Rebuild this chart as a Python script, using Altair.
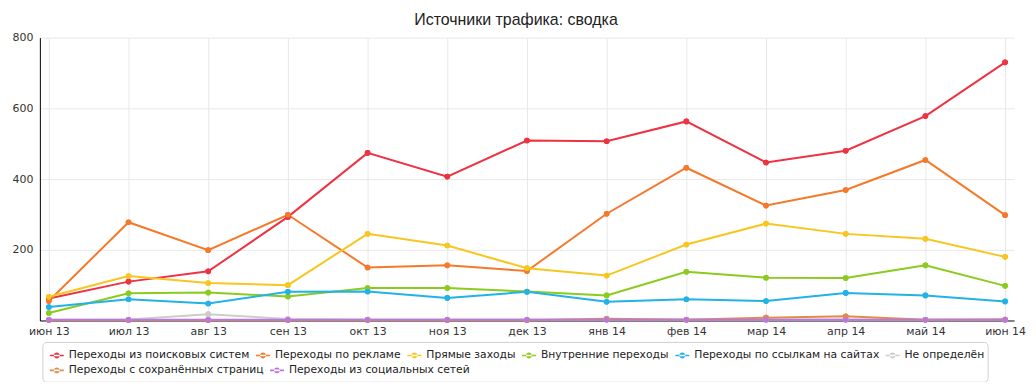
import altair as alt
import pandas as pd

months = ["июн 13", "июл 13", "авг 13", "сен 13", "окт 13", "ноя 13", "дек 13",
          "янв 14", "фев 14", "мар 14", "апр 14", "май 14", "июн 14"]

series = [
    "Переходы из поисковых систем",
    "Переходы по рекламе",
    "Прямые заходы",
    "Внутренние переходы",
    "Переходы по ссылкам на сайтах",
    "Не определён",
    "Переходы с сохранённых страниц",
    "Переходы из социальных сетей",
]

colors = ["#EE3242", "#F5792A", "#F8C620", "#8BCB1E", "#22B2E8", "#CCCCCC", "#DE8C4C", "#BB77DD"]

search = [62, 110, 139, 293, 474, 407, 509, 507, 563, 447, 480, 578, 730]
ads = [55, 278, 199, 299, 150, 156, 140, 302, 432, 325, 369, 454, 298]
direct = [67, 126, 106, 100, 245, 212, 148, 127, 215, 274, 245, 231, 180]
internal = [21, 77, 79, 68, 92, 92, 82, 71, 138, 121, 120, 156, 98]
links = [38, 60, 48, 81, 82, 64, 81, 53, 60, 55, 78, 71, 54]
undefined = [2, 3, 18, 4, 3, 3, 3, 3, 3, 3, 3, 2, 3]
saved = [1, 1, 1, 1, 1, 1, 1, 5, 2, 8, 12, 2, 3]
social = [2, 2, 2, 2, 2, 2, 2, 2, 2, 2, 2, 2, 2]

all_values = [search, ads, direct, internal, links, undefined, saved, social]

rows = []
for name, vals in zip(series, all_values):
    for m, v in zip(months, vals):
        rows.append({"month": m, "series": name, "value": v})
df = pd.DataFrame(rows)

SYMBOL = "M-1,-0.12L1,-0.12L1,0.12L-1,0.12Z M-0.42,0A0.42,0.42 0 1,0 0.42,0A0.42,0.42 0 1,0 -0.42,0Z"


def make_legend(vals, y):
    return alt.Legend(
        title=None,
        orient="none",
        legendX=3,
        legendY=y,
        direction="horizontal",
        values=vals,
        symbolType=SYMBOL,
        symbolSize=196,
        symbolStrokeWidth=0,
        symbolOpacity=1,
        labelFont="DejaVu Sans",
        labelFontSize=10.8,
        labelColor="#222222",
        labelOffset=5,
        columnPadding=6,
        padding=7,
        labelLimit=400,
    )


x_enc = alt.X(
    "month:N",
    sort=months,
    scale=alt.Scale(type="point", padding=0.1125),
    axis=alt.Axis(
        title=None,
        ticks=False,
        labelAngle=0,
        labelFont="DejaVu Sans",
        labelFontSize=11,
        labelColor="#333333",
        labelPadding=5,
        domainColor="#000000",
        domainWidth=1,
        grid=True,
        gridColor="#E8E8E8",
    ),
)
y_enc = alt.Y(
    "value:Q",
    scale=alt.Scale(domain=[0, 800]),
    axis=alt.Axis(
        title=None,
        values=[200, 400, 600, 800],
        ticks=False,
        labelFont="DejaVu Sans",
        labelFontSize=11,
        labelColor="#333333",
        labelPadding=7,
        domainColor="#000000",
        domainWidth=1,
        grid=True,
        gridColor="#E8E8E8",
    ),
)
color_scale = alt.Scale(domain=series, range=colors)

lines = alt.Chart(df).mark_line(strokeWidth=2).encode(
    x=x_enc, y=y_enc,
    color=alt.Color("series:N", sort=series, scale=color_scale, legend=None),
)
points1 = alt.Chart(df).mark_point(filled=True, size=32, opacity=1).encode(
    x=x_enc, y=y_enc,
    color=alt.Color("series:N", sort=series, scale=color_scale,
                    legend=make_legend(series[:6], 305)),
)
points2 = alt.Chart(df).mark_point(filled=True, size=32, opacity=1).encode(
    x=x_enc, y=y_enc,
    color=alt.Color("series:N", sort=series, scale=color_scale,
                    legend=make_legend(series[6:], 320)),
)

frame = alt.Chart(pd.DataFrame({"k": [0]})).mark_rect(
    fillOpacity=0, stroke="#D0D0D0", strokeWidth=1, cornerRadius=4
).encode(
    x=alt.value(3), x2=alt.value(952), y=alt.value(306), y2=alt.value(346)
)

chart = alt.layer(frame, lines, points1, points2).resolve_legend(
    color="independent"
).properties(
    width=978,
    height=284,
    padding={"left": 32, "top": 29, "right": 14, "bottom": 61},
    autosize=alt.AutoSizeParams(type="none"),
    title=alt.TitleParams(
        "Источники трафика: сводка",
        font="Liberation Sans",
        fontSize=16,
        fontWeight="normal",
        color="#222222",
        anchor="middle",
        dx=-11,
    ),
).configure_view(stroke=None)

chart.save("out.html", embed_options={"renderer": "svg", "actions": False})
